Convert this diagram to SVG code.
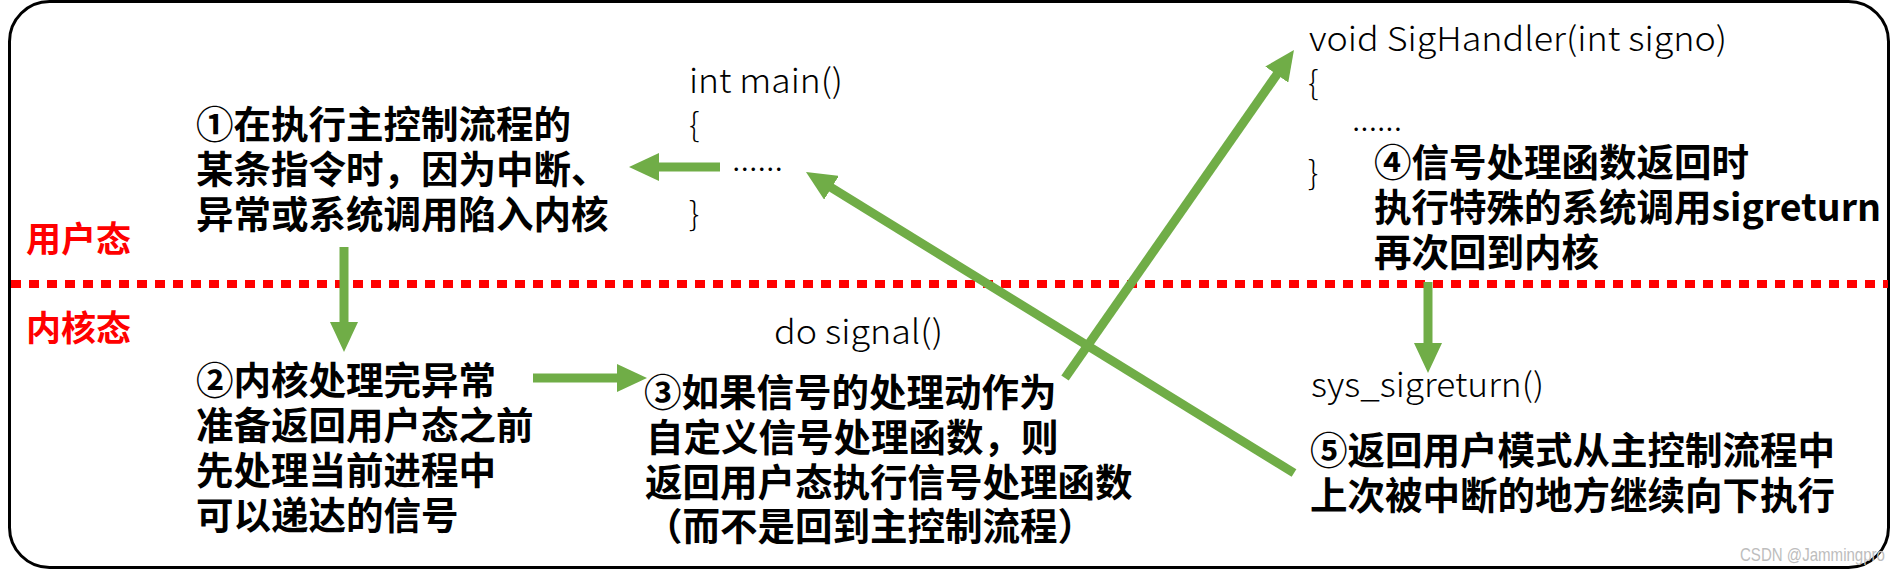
<svg xmlns="http://www.w3.org/2000/svg" width="1895" height="573" viewBox="0 0 1895 573">
<defs>
<style>
.cn{font-family:"Noto Sans CJK SC","Noto Sans",sans-serif;font-weight:bold;font-size:37.5px;fill:#000}
.mode{font-family:"Noto Sans CJK SC","Noto Sans",sans-serif;font-weight:bold;font-size:35px;fill:#ff0000}
.code{font-family:"Noto Sans CJK SC","Noto Sans",sans-serif;font-weight:300;font-size:33px;fill:#000}
.arrow{stroke:#70AD47;stroke-width:9;fill:none;marker-end:url(#ah)}
.wm{font-family:"Liberation Sans",sans-serif;font-size:19px;fill:#bdbdbd}
</style>
<marker id="ah" markerUnits="userSpaceOnUse" markerWidth="30" markerHeight="28" refX="10" refY="14" orient="auto" viewBox="0 0 30 28">
<path d="M0,0 L30,14 L0,28 z" fill="#70AD47"/>
</marker>
</defs>
<rect x="0" y="0" width="1895" height="573" fill="#fff"/>
<rect x="9.5" y="1.5" width="1879" height="566" rx="40" ry="40" fill="none" stroke="#000" stroke-width="3"/>
<line x1="11" y1="284" x2="1888" y2="284" stroke="#ff0000" stroke-width="8" stroke-dasharray="10 8"/>
<g id="user-mode"><text class="mode" x="26" y="252">用户态</text></g>
<g id="kernel-mode"><text class="mode" x="26" y="341">内核态</text></g>
<g id="step1">
<text class="cn" x="196" y="138">①在执行主控制流程的</text>
<text class="cn" x="196" y="183">某条指令时，因为中断、</text>
<text class="cn" x="196" y="228">异常或系统调用陷入内核</text>
</g>
<g id="main">
<text class="code" x="689" y="93" textLength="154" lengthAdjust="spacingAndGlyphs">int main()</text>
<text class="code" x="689" y="137">{</text>
<text class="code" x="732" y="171" textLength="51" lengthAdjust="spacingAndGlyphs">......</text>
<text class="code" x="689" y="226">}</text>
</g>
<g id="step2">
<text class="cn" x="196" y="394">②内核处理完异常</text>
<text class="cn" x="196" y="439">准备返回用户态之前</text>
<text class="cn" x="196" y="484">先处理当前进程中</text>
<text class="cn" x="196" y="529">可以递达的信号</text>
</g>
<g id="dosignal"><text class="code" x="774" y="344" textLength="169" lengthAdjust="spacingAndGlyphs">do signal()</text></g>
<g id="step3">
<text class="cn" x="644" y="406">③如果信号的处理动作为</text>
<text class="cn" x="646" y="451">自定义信号处理函数，则</text>
<text class="cn" x="645" y="496">返回用户态执行信号处理函数</text>
<text class="cn" x="645" y="540">（而不是回到主控制流程）</text>
</g>
<g id="sighandler">
<text class="code" x="1309" y="51" textLength="418" lengthAdjust="spacingAndGlyphs">void SigHandler(int signo)</text>
<text class="code" x="1308" y="95">{</text>
<text class="code" x="1352" y="131" textLength="50" lengthAdjust="spacingAndGlyphs">......</text>
<text class="code" x="1308" y="185">}</text>
</g>
<g id="step4">
<text class="cn" x="1374" y="176">④信号处理函数返回时</text>
<text class="cn" x="1374" y="221">执行特殊的系统调用sigreturn</text>
<text class="cn" x="1374" y="266">再次回到内核</text>
</g>
<g id="sysreturn"><text class="code" x="1311" y="397" textLength="233" lengthAdjust="spacingAndGlyphs">sys_sigreturn()</text></g>
<g id="step5">
<text class="cn" x="1310" y="464">⑤返回用户模式从主控制流程中</text>
<text class="cn" x="1310" y="509">上次被中断的地方继续向下执行</text>
</g>
<g id="connectors">
<line class="arrow" x1="720" y1="167" x2="649" y2="167"/>
<line class="arrow" x1="344" y1="247" x2="344" y2="332"/>
<line class="arrow" x1="533" y1="378" x2="627" y2="378"/>
<line class="arrow" x1="1065" y1="378" x2="1282.5" y2="66.4"/>
<line class="arrow" x1="1294" y1="473" x2="823" y2="182.5"/>
<line class="arrow" x1="1428" y1="282" x2="1428" y2="353"/>
</g>
<text class="wm" x="1740" y="561" textLength="145" lengthAdjust="spacingAndGlyphs">CSDN @Jammingpro</text>
</svg>
